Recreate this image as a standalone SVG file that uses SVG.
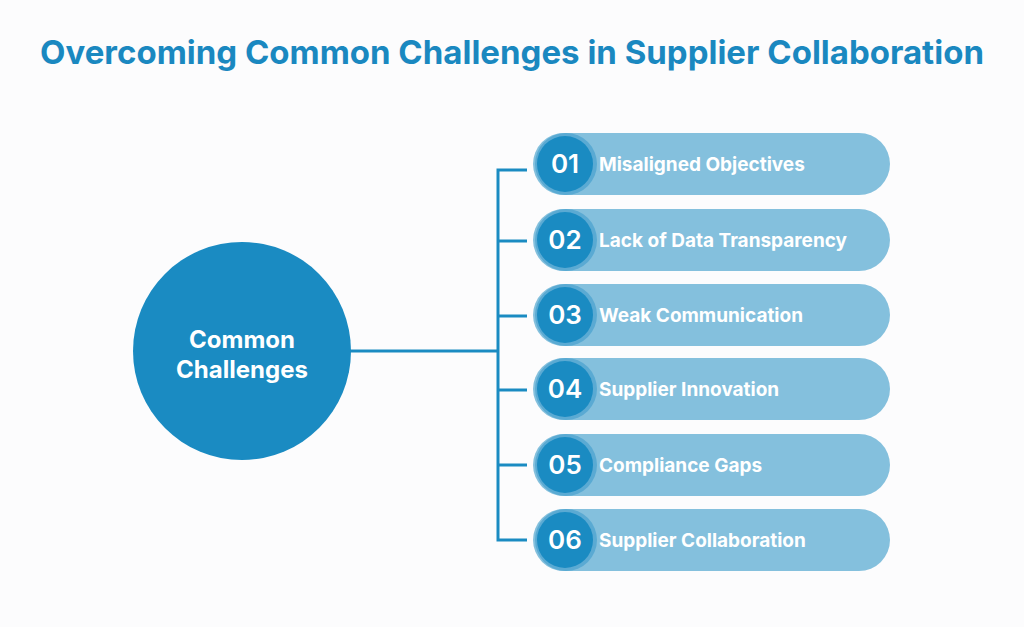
<svg xmlns="http://www.w3.org/2000/svg" width="1024" height="627" viewBox="0 0 1024 627">
<style>
.pill{fill:#84c0dd}
.num-ring{fill:#5aaad3}
.num{fill:#1a8bc2}
.nt{font-family:"Inter","Liberation Sans",sans-serif;font-weight:600;fill:#fff;font-size:26px;text-anchor:middle}
.lt{font-family:"Inter","Liberation Sans",sans-serif;font-weight:700;fill:#fff;font-size:19px}
.ln{stroke:#1a8bc2;stroke-width:3;fill:none}
</style>
<rect width="1024" height="627" fill="#fcfcfd"/>
<text x="512" y="64" font-family="Inter,'Liberation Sans',sans-serif" font-weight="700" font-size="33" fill="#1a88c0" text-anchor="middle">Overcoming Common Challenges in Supplier Collaboration</text>
<g id="connectors">
<path class="ln" d="M350 351H498M527 170H498V540H527M498 241H527M498 316H527M498 390H527M498 465H527"/>
</g>
<g id="center">
<circle cx="242" cy="351" r="109" fill="#1a8bc2"/>
<text x="242" y="348" font-family="Inter,'Liberation Sans',sans-serif" font-weight="700" font-size="24" fill="#fff" text-anchor="middle">Common</text>
<text x="242" y="378" font-family="Inter,'Liberation Sans',sans-serif" font-weight="700" font-size="24" fill="#fff" text-anchor="middle">Challenges</text>
</g>
<g id="n1"><rect class="pill" x="533" y="133" width="357" height="62" rx="31"/><circle class="num-ring" cx="566" cy="164" r="31"/><circle class="num" cx="565" cy="164" r="28"/><text class="nt" x="565" y="173">01</text><text class="lt" x="599" y="171">Misaligned Objectives</text></g>
<g id="n2"><rect class="pill" x="533" y="209" width="357" height="62" rx="31"/><circle class="num-ring" cx="566" cy="240" r="31"/><circle class="num" cx="565" cy="240" r="28"/><text class="nt" x="565" y="249">02</text><text class="lt" x="599" y="247">Lack of Data Transparency</text></g>
<g id="n3"><rect class="pill" x="533" y="284" width="357" height="62" rx="31"/><circle class="num-ring" cx="566" cy="315" r="31"/><circle class="num" cx="565" cy="315" r="28"/><text class="nt" x="565" y="324">03</text><text class="lt" x="599" y="322">Weak Communication</text></g>
<g id="n4"><rect class="pill" x="533" y="358" width="357" height="62" rx="31"/><circle class="num-ring" cx="566" cy="389" r="31"/><circle class="num" cx="565" cy="389" r="28"/><text class="nt" x="565" y="398">04</text><text class="lt" x="599" y="396">Supplier Innovation</text></g>
<g id="n5"><rect class="pill" x="533" y="434" width="357" height="62" rx="31"/><circle class="num-ring" cx="566" cy="465" r="31"/><circle class="num" cx="565" cy="465" r="28"/><text class="nt" x="565" y="474">05</text><text class="lt" x="599" y="472">Compliance Gaps</text></g>
<g id="n6"><rect class="pill" x="533" y="509" width="357" height="62" rx="31"/><circle class="num-ring" cx="566" cy="540" r="31"/><circle class="num" cx="565" cy="540" r="28"/><text class="nt" x="565" y="549">06</text><text class="lt" x="599" y="547">Supplier Collaboration</text></g>
</svg>
